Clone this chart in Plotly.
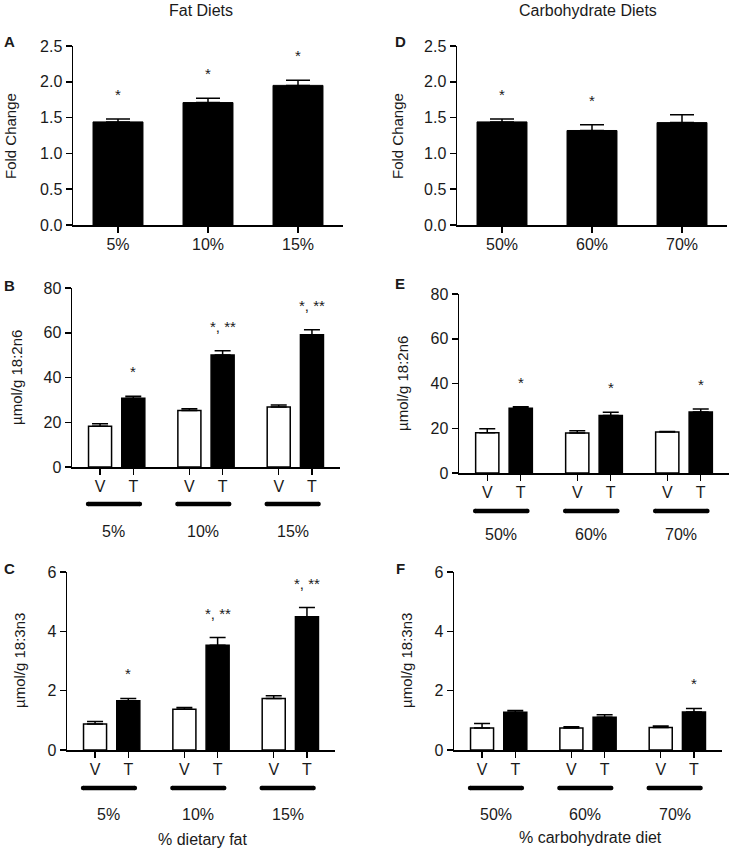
import plotly.graph_objects as go

# ---------------- data ----------------
fat_cats = ["5%", "10%", "15%"]
carb_cats = ["50%", "60%", "70%"]
group_ticks = ["V", "T"]

fold_fat = [1.44, 1.71, 1.95]
fold_fat_err = [0.04, 0.06, 0.07]
fold_fat_sig = ["*", "*", "*"]

fold_carb = [1.44, 1.32, 1.43]
fold_carb_err = [0.04, 0.08, 0.11]
fold_carb_sig = ["*", "*", ""]

la_fat_V = [18.2, 25.3, 26.8]
la_fat_V_err = [1.1, 0.7, 0.9]
la_fat_T = [30.7, 50.1, 59.1]
la_fat_T_err = [0.9, 1.8, 2.2]
la_fat_sig = ["*", "*, **", "*, **"]

la_carb_V = [18.0, 17.9, 18.3]
la_carb_V_err = [1.8, 1.0, 0.3]
la_carb_T = [28.9, 25.7, 27.3]
la_carb_T_err = [0.7, 1.4, 1.3]
la_carb_sig = ["*", "*", "*"]

ala_fat_V = [0.88, 1.37, 1.74]
ala_fat_V_err = [0.08, 0.06, 0.09]
ala_fat_T = [1.66, 3.53, 4.49]
ala_fat_T_err = [0.08, 0.26, 0.31]
ala_fat_sig = ["*", "*, **", "*, **"]

ala_carb_V = [0.74, 0.74, 0.76]
ala_carb_V_err = [0.15, 0.04, 0.05]
ala_carb_T = [1.27, 1.10, 1.28]
ala_carb_T_err = [0.06, 0.09, 0.12]
ala_carb_sig = ["", "", "*"]

# ---------------- layout helpers ----------------
W, H = 731, 853
FONT = "Liberation Sans, Arial, sans-serif"
TXT = "#1a1a1a"


def fx(px):
    return px / W


def fy(py):
    return 1 - py / H


fig = go.Figure()
annotations = []
shapes = []
layout_axes = {}

OFF = 0.186     # V/T offset from group centre
PW = 0.258      # paired bar width
SW = 0.555      # single bar width


def add_axes(idx, xpx, ypx, ymax, dtick, tickfmt, tickvals, ticktext):
    xs = "xaxis" if idx == 1 else f"xaxis{idx}"
    ys = "yaxis" if idx == 1 else f"yaxis{idx}"
    xa = "x" if idx == 1 else f"x{idx}"
    ya = "y" if idx == 1 else f"y{idx}"
    common = dict(showline=True, linecolor="black", linewidth=1.5, ticks="outside",
                  ticklen=6, tickwidth=1.5, tickcolor="black", showgrid=False,
                  zeroline=False, fixedrange=True, automargin=False,
                  tickfont=dict(family=FONT, size=16, color=TXT))
    layout_axes[xs] = dict(domain=[fx(xpx[0]), fx(xpx[1])], range=[-0.5, 2.5],
                           anchor=ya, tickmode="array", tickvals=tickvals,
                           ticktext=ticktext, ticklabelstandoff=-2, **common)
    layout_axes[ys] = dict(domain=[fy(ypx[1]), fy(ypx[0])], range=[0, ymax],
                           anchor=xa, dtick=dtick, tick0=0, tickformat=tickfmt,
                           **common)
    return xa, ya


def err_dict(errs, width):
    return dict(type="data", array=errs, arrayminus=[0] * len(errs), symmetric=False,
                color="black", thickness=1.5, width=width, visible=True)


def stars(xa, ya, xs, tops, sigs):
    for x, t, s in zip(xs, tops, sigs):
        if s:
            annotations.append(dict(xref=xa, yref=ya, x=x, y=t, text=s, showarrow=False,
                                    yanchor="bottom", yshift=14,
                                    font=dict(family=FONT, size=15, color=TXT)))


def single_panel(idx, xpx, ypx, vals, errs, sigs, cats):
    xa, ya = add_axes(idx, xpx, ypx, 2.5, 0.5, ".1f", [0, 1, 2], cats)
    xs = [0, 1, 2]
    fig.add_trace(go.Bar(x=xs, y=vals, width=SW, xaxis=xa, yaxis=ya,
                         marker=dict(color="black", line=dict(color="black", width=1)),
                         error_y=err_dict(errs, 12), showlegend=False))
    stars(xa, ya, xs, [v + e for v, e in zip(vals, errs)], sigs)


def paired_panel(idx, xpx, ypx, ymax, dtick, V, Ve, T, Te, sigs, cats, line_py, lab_py):
    tv = []
    tt = []
    for g in range(3):
        tv += [g - OFF, g + OFF]
        tt += group_ticks
    xa, ya = add_axes(idx, xpx, ypx, ymax, dtick, "d", tv, tt)
    xV = [g - OFF for g in range(3)]
    xT = [g + OFF for g in range(3)]
    fig.add_trace(go.Bar(x=xV, y=V, width=PW, xaxis=xa, yaxis=ya,
                         marker=dict(color="white", line=dict(color="black", width=1.5)),
                         error_y=err_dict(Ve, 8), showlegend=False))
    fig.add_trace(go.Bar(x=xT, y=T, width=PW, xaxis=xa, yaxis=ya,
                         marker=dict(color="black", line=dict(color="black", width=1.5)),
                         error_y=err_dict(Te, 8), showlegend=False))
    stars(xa, ya, xT, [v + e for v, e in zip(T, Te)], sigs)

    def d2px(d):
        return xpx[0] + (d + 0.5) / 3 * (xpx[1] - xpx[0])

    for g in range(3):
        a, b = d2px(g - 0.32), d2px(g + 0.26)
        yl = fy(line_py)
        shapes.append(dict(type="line", xref="paper", yref="paper", x0=fx(a), x1=fx(b),
                           y0=yl, y1=yl, line=dict(color="black", width=4.5)))
        for e in (a, b):
            shapes.append(dict(type="circle", xref="paper", yref="paper",
                               xsizemode="pixel", ysizemode="pixel",
                               xanchor=fx(e), yanchor=yl, x0=-2.25, x1=2.25,
                               y0=-2.25, y1=2.25, fillcolor="black",
                               line=dict(width=0)))
        annotations.append(dict(xref="paper", yref="paper", x=fx(d2px(g - 0.03)),
                                y=fy(lab_py - 1), text=cats[g], showarrow=False,
                                xanchor="center", yanchor="middle",
                                font=dict(family=FONT, size=16, color=TXT)))


single_panel(1, (73, 343), (46, 225), fold_fat, fold_fat_err, fold_fat_sig, fat_cats)
single_panel(2, (457, 727), (46, 225), fold_carb, fold_carb_err, fold_carb_sig, carb_cats)
paired_panel(3, (72, 340), (288, 467), 80, 20, la_fat_V, la_fat_V_err, la_fat_T,
             la_fat_T_err, la_fat_sig, fat_cats, 504, 532)
paired_panel(4, (459, 729), (294, 473), 80, 20, la_carb_V, la_carb_V_err, la_carb_T,
             la_carb_T_err, la_carb_sig, carb_cats, 511, 535)
paired_panel(5, (67, 335), (572, 750), 6, 2, ala_fat_V, ala_fat_V_err, ala_fat_T,
             ala_fat_T_err, ala_fat_sig, fat_cats, 788, 815)
paired_panel(6, (454, 722), (572, 750), 6, 2, ala_carb_V, ala_carb_V_err, ala_carb_T,
             ala_carb_T_err, ala_carb_sig, carb_cats, 788, 815)


def text(px, py, s, size=16, angle=0, bold=False, yanchor="middle"):
    annotations.append(dict(xref="paper", yref="paper", x=fx(px), y=fy(py),
                            text=f"<b>{s}</b>" if bold else s, showarrow=False,
                            xanchor="center", yanchor=yanchor, textangle=angle,
                            font=dict(family=FONT, size=size, color=TXT)))


text(201, 0, "Fat Diets", yanchor="top")
text(588, 0, "Carbohydrate Diets", yanchor="top")
for lab, px, py in [("A", 9, 42), ("D", 400, 42), ("B", 9, 285), ("E", 400, 283),
                    ("C", 9, 568), ("F", 400, 568)]:
    text(px, py, lab, size=15, bold=True)
text(10, 136, "Fold Change", size=15, angle=-90)
text(397, 136, "Fold Change", size=15, angle=-90)
text(16, 378, "µmol/g 18:2n6", size=15, angle=-90)
text(402, 384, "µmol/g 18:2n6", size=15, angle=-90)
text(19, 661, "µmol/g 18:3n3", size=15, angle=-90)
text(406, 661, "µmol/g 18:3n3", size=15, angle=-90)
text(202, 839, "% dietary fat")
text(590, 837, "% carbohydrate diet")

fig.update_layout(template="none", width=W, height=H, autosize=False,
                  margin=dict(l=0, r=0, t=0, b=0, pad=0),
                  paper_bgcolor="white", plot_bgcolor="white", barmode="overlay",
                  showlegend=False, annotations=annotations, shapes=shapes,
                  font=dict(family=FONT, color=TXT), **layout_axes)

fig.write_html(
    "out.html",
    config={"displayModeBar": False, "staticPlot": True},
    post_script=("document.documentElement.style.margin='0';"
                 "document.body.style.margin='0';"
                 "document.documentElement.style.overflow='hidden';"
                 "document.body.style.overflow='hidden';"),
)
